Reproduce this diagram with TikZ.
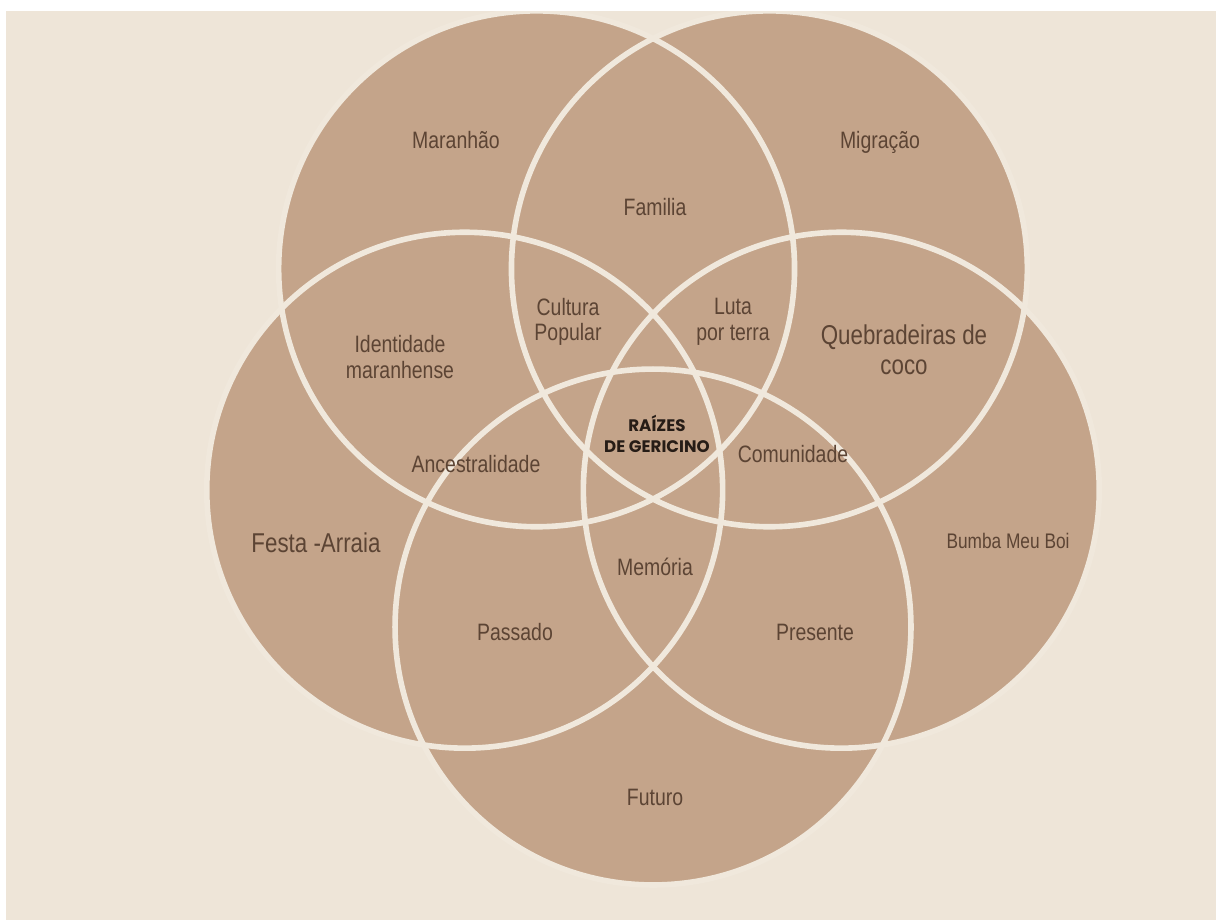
\documentclass[tikz,border=0pt]{standalone}
\usepackage{fontspec}
\setmainfont{Liberation Sans}[FakeStretch=0.82]
\newfontfamily\raizfont{Poppins}
\usepackage{xcolor}
\usetikzlibrary{positioning}
\definecolor{vennfill}{RGB}{196,164,138}
\definecolor{vennline}{RGB}{240,232,220}
\definecolor{paperbg}{RGB}{238,229,216}
\definecolor{labeltext}{RGB}{92,68,52}
\definecolor{coretext}{RGB}{38,28,22}

\begin{document}
\begin{tikzpicture}[
  x=0.02cm, y=-0.02cm,
  every node/.style={font=\fontsize{13.5}{14.5}\selectfont, text=labeltext,
    align=center, inner sep=0pt},
  petal/.style={fill=vennfill},
  petalline/.style={draw=vennline, line width=3.2pt},
  biglabel/.style={font=\fontsize{15.5}{17}\selectfont},
  smalllabel/.style={font=\fontsize{12}{14}\selectfont},
  corelabel/.style={font=\raizfont\bfseries\fontsize{9.5}{11.5}\selectfont,
    text=coretext},
]
  \useasboundingbox (0,0) rectangle (1216,920);
  \fill[white] (0,0) rectangle (1216,920);
  \fill[paperbg] (6,11) rectangle (1216,920);

  % Circle centres
  \coordinate (cmar) at (536.6,268.8);
  \coordinate (cmig) at (769.4,268.8);
  \coordinate (cfes) at (464.7,490.2);
  \coordinate (cbum) at (841.3,490.2);
  \coordinate (cfut) at (653,627);

  % Circles
  \begin{scope}
    \clip (6,11) rectangle (1216,920);
    \fill[petal] (cmar) circle[radius=5.16cm];
    \fill[petal] (cmig) circle[radius=5.16cm];
    \fill[petal] (cfes) circle[radius=5.16cm];
    \fill[petal] (cbum) circle[radius=5.16cm];
    \fill[petal] (cfut) circle[radius=5.16cm];
    \draw[petalline] (cmar) circle[radius=5.16cm];
    \draw[petalline] (cmig) circle[radius=5.16cm];
    \draw[petalline] (cfes) circle[radius=5.16cm];
    \draw[petalline] (cbum) circle[radius=5.16cm];
    \draw[petalline] (cfut) circle[radius=5.16cm];
  \end{scope}

  % Labels
  \node (maranhao) at (456,140) {Maranhão};
  \node (migracao) at (880,142) {Migração};
  \node (familia) at (655,207) {Familia};
  \node (cultura) at (568,322) {Cultura\\Popular};
  \node (luta) at (733,322) {Luta\\por terra};
  \node (identidade) at (400,357) {Identidade\\maranhense};
  \node[biglabel] (quebradeiras) at (904,350) {Quebradeiras de\\coco};
  \node[corelabel] (raizes) at (657,434) {RAÍZES\\DE GERICINO};
  \node (ancestral) at (476,464) {Ancestralidade};
  \node (comunidade) at (793,454) {Comunidade};
  \node[biglabel] (festa) at (316,543) {Festa -Arraia};
  \node[smalllabel] (bumba) at (1008,541) {Bumba Meu Boi};
  \node (memoria) at (655,567) {Memória};
  \node (passado) at (515,632) {Passado};
  \node (presente) at (815,632) {Presente};
  \node (futuro) at (655,797) {Futuro};
\end{tikzpicture}
\end{document}
